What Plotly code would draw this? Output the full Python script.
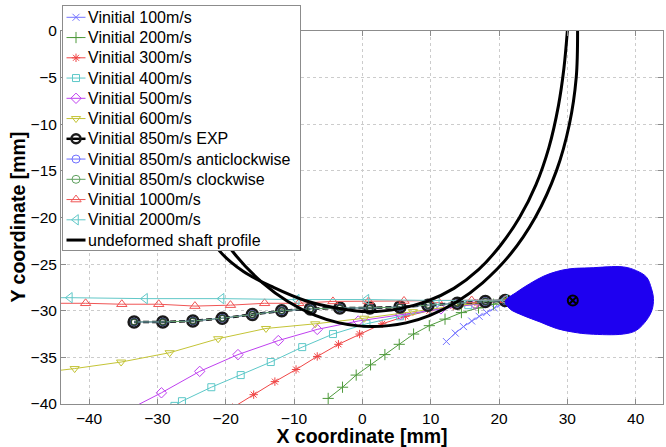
import plotly.graph_objects as go

# ---------------- data ----------------
v100_x = [12.3, 13.6, 14.8, 16.0, 17.1, 18.2, 19.3, 20.3, 20.9]
v100_y = [-33.3, -32.4, -31.7, -31.1, -30.6, -30.2, -29.7, -29.3, -28.9]

v200_x = [-5.0, -2.9, -0.9, 1.2, 3.3, 5.4, 7.5, 9.8, 12.1, 14.5, 17.0, 19.2, 20.9]
v200_y = [-39.4, -38.2, -36.9, -35.8, -34.7, -33.6, -32.5, -31.6, -30.9, -30.2, -29.7, -29.3, -28.9]

v300_x = [-19.0, -15.9, -12.8, -9.7, -6.6, -3.5, -0.4, 2.9, 6.3, 9.8, 13.3, 16.8, 20.9]
v300_y = [-40.4, -39.0, -37.6, -36.3, -34.9, -33.6, -32.5, -31.4, -30.6, -30.0, -29.5, -29.2, -28.9]

v400_x = [-27.5, -26.4, -22.1, -17.8, -13.4, -8.8, -4.3, 0.6, 5.5, 10.4, 15.5, 20.9]
v400_y = [-40.2, -39.7, -38.2, -36.9, -35.5, -33.9, -32.5, -31.4, -30.6, -29.9, -29.4, -28.9]

v500_x = [-35.0, -29.4, -23.8, -18.2, -12.3, -6.6, -0.6, 5.6, 11.5, 16.5, 20.9]
v500_y = [-40.9, -38.8, -36.5, -34.7, -33.2, -32.0, -31.1, -30.4, -29.8, -29.3, -28.9]

v600_x = [-49.0, -42.1, -35.3, -28.2, -21.1, -14.1, -6.9, 0.3, 7.4, 14.4, 20.9]
v600_y = [-36.8, -36.2, -35.5, -34.5, -33.0, -31.9, -31.4, -30.8, -30.1, -29.4, -28.9]

v850_x = [-33.4, -29.2, -24.8, -20.5, -16.1, -11.8, -7.6, -3.3, 1.1, 5.5, 9.6, 13.9, 18.0, 20.9]
v850_y = [-31.2, -31.2, -31.1, -30.8, -30.4, -30.0, -29.8, -29.7, -29.7, -29.6, -29.4, -29.2, -29.0, -28.9]

v1000_x = [-45.8, -40.5, -35.2, -29.8, -24.5, -19.3, -14.3, -9.3, -4.3, 0.9, 6.1, 11.0, 16.0, 20.9]
v1000_y = [-29.2, -29.2, -29.3, -29.3, -29.5, -29.4, -29.2, -29.2, -29.0, -29.0, -28.95, -28.9, -28.9, -28.85]

v2000_x = [-53.8, -42.8, -31.8, -20.6, -9.6, 0.6, 10.9, 20.9]
v2000_y = [-28.6, -28.6, -28.7, -28.7, -28.8, -28.8, -28.9, -28.85]

# undeformed shaft profile: two curves
shaft_a_x = [-30.3, -29.9, -28.4, -25.8, -23.4, -21.0, -17.4, -13.0, -8.4, -3.8, 0.8, 5.3, 9.4,
             13.4, 17.0, 20.2, 23.0, 25.4, 27.3, 28.7, 29.5, 30.0]
shaft_a_y = [0.0, -6.0, -12.0, -17.0, -20.5, -23.5, -25.8, -27.5, -28.9, -29.7, -30.1, -29.8, -29.0,
             -27.6, -25.6, -23.0, -20.0, -16.5, -12.5, -8.0, -4.0, 0.0]
shaft_b_x = [-28.45, -28.3, -27.3, -25.4, -22.3, -18.6, -14.6, -10.9, -6.9, -3.4, 1.5, 6.4, 9.9,
             13.9, 17.6, 21.6, 25.3, 28.4, 30.3, 31.3, 31.5]
shaft_b_y = [0.0, -5.0, -10.0, -15.0, -20.0, -24.0, -27.0, -29.0, -30.5, -31.3, -31.7, -31.3, -30.5,
             -29.0, -27.0, -24.0, -20.0, -15.0, -10.0, -5.0, 0.0]

# impact zone (blue teardrop) outline and its centre
blob_x = [20.9, 22.6, 24.5, 26.5, 28.4, 30.4, 33.3, 38.2, 40.1, 41.6, 42.3, 42.6, 42.4, 41.6,
          40.1, 38.2, 33.3, 30.9, 28.4, 26.0, 23.5, 21.6, 20.9]
blob_y = [-29.0, -28.0, -27.1, -26.3, -25.8, -25.5, -25.4, -25.3, -25.7, -26.4, -27.6, -28.7, -29.9,
          -31.0, -32.1, -32.5, -32.5, -32.3, -31.9, -31.2, -30.5, -29.8, -29.0]
centre_x = [30.8]
centre_y = [-28.9]

x_ticks = [-40, -30, -20, -10, 0, 10, 20, 30, 40]
y_ticks = [0, -5, -10, -15, -20, -25, -30, -35, -40]

legend_labels = ["Vinitial 100m/s", "Vinitial 200m/s", "Vinitial 300m/s", "Vinitial 400m/s",
                 "Vinitial 500m/s", "Vinitial 600m/s", "Vinitial 850m/s EXP",
                 "Vinitial 850m/s anticlockwise", "Vinitial 850m/s clockwise",
                 "Vinitial 1000m/s", "Vinitial 2000m/s", "undeformed shaft profile"]

FONT = "Liberation Sans, Arial, sans-serif"

# series styles (same order as legend_labels)
styles = [
    dict(line=dict(color="#7474ff", width=1), marker=dict(symbol="x-thin-open", size=7, color="#7474ff", line=dict(color="#7474ff", width=1))),
    dict(line=dict(color="#4f9a3c", width=1), marker=dict(symbol="cross-thin-open", size=8, color="#4f9a3c", line=dict(color="#4f9a3c", width=1))),
    dict(line=dict(color="#f04545", width=1), marker=dict(symbol="asterisk-open", size=7, color="#f04545", line=dict(color="#f04545", width=1))),
    dict(line=dict(color="#5cc8c8", width=1), marker=dict(symbol="square-open", size=7, color="#5cc8c8", line=dict(color="#5cc8c8", width=1))),
    dict(line=dict(color="#bf40f0", width=1), marker=dict(symbol="diamond-open", size=8, color="#bf40f0", line=dict(color="#bf40f0", width=1))),
    dict(line=dict(color="#c4c436", width=1), marker=dict(symbol="triangle-down-open", size=8, color="#c4c436", line=dict(color="#c4c436", width=1))),
    dict(line=dict(color="black", width=2.5, dash="6px,3px"), marker=dict(symbol="circle-open", size=11, color="#1a1a1a", line=dict(color="#1a1a1a", width=2.5))),
    dict(line=dict(color="#6a6aff", width=1), marker=dict(symbol="circle-open", size=7, color="#3838a8", line=dict(color="#3838a8", width=1.5))),
    dict(line=dict(color="#5fa05f", width=1), marker=dict(symbol="circle-open", size=6, color="#2f4f2f", line=dict(color="#2f4f2f", width=1.5))),
    dict(line=dict(color="#f05555", width=1), marker=dict(symbol="triangle-up-open", size=9, color="#f05555", line=dict(color="#f05555", width=1))),
    dict(line=dict(color="#62c8c8", width=1), marker=dict(symbol="triangle-left-open", size=9, color="#62c8c8", line=dict(color="#62c8c8", width=1))),
    dict(line=dict(color="black", width=3)),
]
legend_marker_styles = [
    dict(symbol="x-thin-open", size=7, color="#7474ff", line=dict(color="#7474ff", width=1)),
    dict(symbol="cross-thin-open", size=8, color="#4f9a3c", line=dict(color="#4f9a3c", width=1)),
    dict(symbol="asterisk-open", size=7, color="#f04545", line=dict(color="#f04545", width=1)),
    dict(symbol="square-open", size=7, color="#5cc8c8", line=dict(color="#5cc8c8", width=1)),
    dict(symbol="diamond-open", size=8, color="#bf40f0", line=dict(color="#bf40f0", width=1)),
    dict(symbol="triangle-down-open", size=8, color="#c4c436", line=dict(color="#c4c436", width=1)),
    dict(symbol="circle-open", size=9, color="#1a1a1a", line=dict(color="#1a1a1a", width=2.5)),
    dict(symbol="circle-open", size=8, color="#7070ff", line=dict(color="#7070ff", width=1)),
    dict(symbol="circle-open", size=8, color="#5fa05f", line=dict(color="#5fa05f", width=1)),
    dict(symbol="triangle-up-open", size=9, color="#f05555", line=dict(color="#f05555", width=1)),
    dict(symbol="triangle-left-open", size=9, color="#62c8c8", line=dict(color="#62c8c8", width=1)),
    None,
]

series = [(v100_x, v100_y), (v200_x, v200_y), (v300_x, v300_y), (v400_x, v400_y),
          (v500_x, v500_y), (v600_x, v600_y), (v850_x, v850_y), (v850_x, v850_y),
          (v850_x, v850_y), (v1000_x, v1000_y), (v2000_x, v2000_y)]

fig = go.Figure()

for (sx, sy), name, st in zip(series, legend_labels[:11], styles[:11]):
    fig.add_trace(go.Scatter(x=sx, y=sy, name=name, mode="lines+markers",
                             line=st["line"], marker=st["marker"], showlegend=False))

fig.add_trace(go.Scatter(
    x=shaft_a_x + [None] + shaft_b_x, y=shaft_a_y + [None] + shaft_b_y,
    name=legend_labels[11], mode="lines", showlegend=False,
    line=dict(color="black", width=3, shape="spline"), connectgaps=False,
))

fig.add_trace(go.Scatter(
    x=blob_x, y=blob_y, mode="lines", fill="toself", fillcolor="#1e00f0",
    line=dict(color="#1e00f0", width=1, shape="spline"), showlegend=False, hoverinfo="skip",
))
fig.add_trace(go.Scatter(
    x=centre_x, y=centre_y, mode="markers", showlegend=False,
    marker=dict(symbol="circle-x-open", size=10, color="black", line=dict(color="black", width=2)),
))

# ---------------- legend box drawn on its own inset axes (pixel units) ----------------
LW, LH = 237, 244          # legend box size in px
row0, row_step = 11.3, 20.25
fig.add_trace(go.Scatter(x=[0, LW, LW, 0, 0], y=[0, 0, LH, LH, 0], mode="lines", fill="toself",
                         fillcolor="white", line=dict(width=0, color="white"),
                         xaxis="x2", yaxis="y2", showlegend=False, hoverinfo="skip"))
annotations = []
for i, label in enumerate(legend_labels):
    ry = row0 + row_step * i
    st = styles[i]
    ln = dict(st["line"])
    if i == 6:
        ln = dict(color="black", width=2.5)
    fig.add_trace(go.Scatter(x=[3.5, 22.5], y=[ry, ry], mode="lines", line=ln,
                             xaxis="x2", yaxis="y2", showlegend=False, hoverinfo="skip"))
    if legend_marker_styles[i] is not None:
        fig.add_trace(go.Scatter(x=[13], y=[ry], mode="markers", marker=legend_marker_styles[i],
                                 xaxis="x2", yaxis="y2", showlegend=False, hoverinfo="skip"))
    annotations.append(dict(x=24, y=ry, xref="x2", yref="y2", text=label, showarrow=False,
                            xanchor="left", yanchor="middle", borderpad=0,
                            font=dict(family=FONT, size=16, color="black")))

axis_common = dict(
    showgrid=True, gridcolor="#cccccc", griddash="dot", gridwidth=1,
    showline=True, linecolor="#8c8c8c", linewidth=1, mirror="ticks",
    ticks="inside", ticklen=5, tickcolor="#8c8c8c", automargin=False,
    zeroline=False, tickfont=dict(family=FONT, size=15.5, color="black"),
)

T, B, L, R = 5, 43, 61, 3
paper_h = 447 - T - B
paper_w = 666 - L - R
main_top = 31
main_ytop = (447 - B - main_top) / paper_h

# y-axis title as a rotated text placed at x = 18 px
annotations.append(dict(text="<b>Y coordinate [mm]</b>", textangle=-90, showarrow=False,
                        xref="paper", yref="paper", x=(18 - L) / paper_w, y=main_ytop / 2,
                        xanchor="center", yanchor="middle",
                        font=dict(family=FONT, size=19.5, color="black")))

fig.update_layout(
    width=666, height=447,
    margin=dict(l=L, r=R, t=T, b=B, autoexpand=False),
    paper_bgcolor="white", plot_bgcolor="white",
    font=dict(family=FONT, color="black"),
    xaxis=dict(range=[-44.1, 44.0], tickvals=x_ticks, domain=[0, 1], **axis_common,
               title=dict(text="<b>X coordinate [mm]</b>", font=dict(family=FONT, size=19.5), standoff=1)),
    yaxis=dict(range=[-40, 0], tickvals=y_ticks, domain=[0, main_ytop], **axis_common),
    xaxis2=dict(domain=[(63 - L) / paper_w, (63 + LW - L) / paper_w], range=[0, LW], anchor="y2",
                showgrid=False, zeroline=False, showticklabels=False, ticks="", automargin=False,
                showline=True, mirror=True, linecolor="#8c8c8c", linewidth=1, fixedrange=True),
    yaxis2=dict(domain=[(447 - B - (6 + LH)) / paper_h, (447 - B - 6) / paper_h], range=[LH, 0], anchor="x2",
                showgrid=False, zeroline=False, showticklabels=False, ticks="", automargin=False,
                showline=True, mirror=True, linecolor="#8c8c8c", linewidth=1, fixedrange=True),
    annotations=annotations,
    showlegend=False,
)

fig.write_html("out.html")
